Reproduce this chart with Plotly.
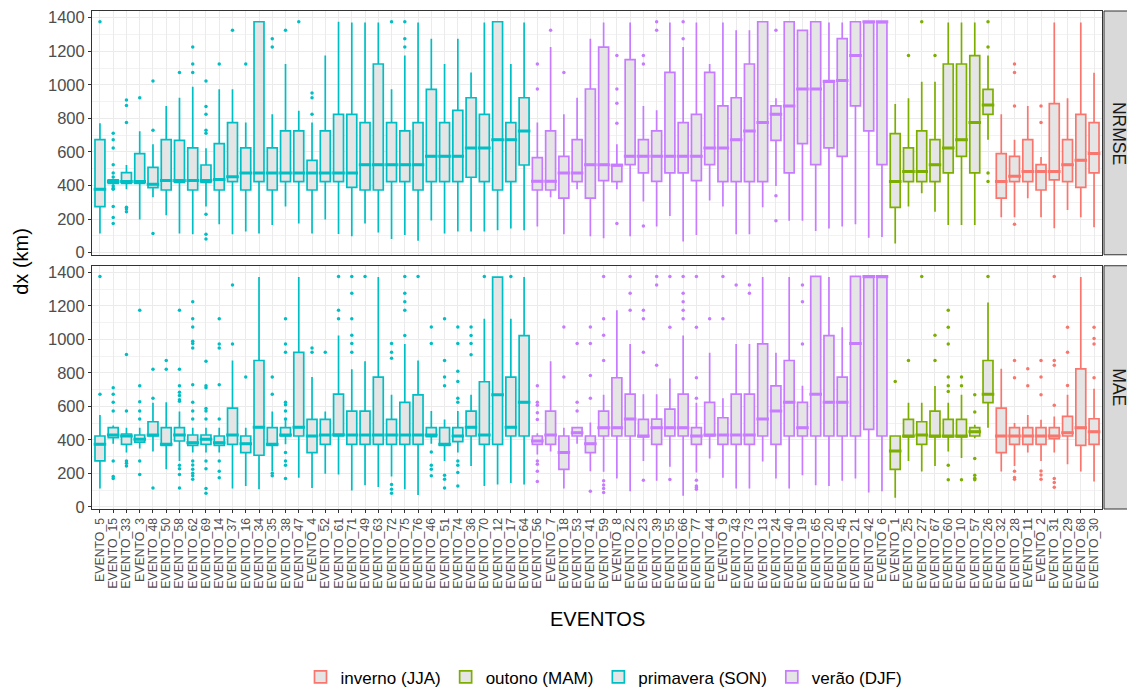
import plotly.graph_objects as go
from plotly.subplots import make_subplots

events = ["EVENTO_5", "EVENTO_15", "EVENTO_33", "EVENTO_3", "EVENTO_48", "EVENTO_50", "EVENTO_58", "EVENTO_62",
          "EVENTO_69", "EVENTO_14", "EVENTO_37", "EVENTO_16", "EVENTO_34", "EVENTO_35", "EVENTO_38", "EVENTO_47",
          "EVENTO_4", "EVENTO_52", "EVENTO_61", "EVENTO_71", "EVENTO_49", "EVENTO_63", "EVENTO_72", "EVENTO_75",
          "EVENTO_76", "EVENTO_46", "EVENTO_51", "EVENTO_74", "EVENTO_36", "EVENTO_70", "EVENTO_12", "EVENTO_17",
          "EVENTO_64",
          "EVENTO_56", "EVENTO_7", "EVENTO_18", "EVENTO_53", "EVENTO_41", "EVENTO_59", "EVENTO_8", "EVENTO_22",
          "EVENTO_23", "EVENTO_39", "EVENTO_55", "EVENTO_66", "EVENTO_77", "EVENTO_44", "EVENTO_9", "EVENTO_43",
          "EVENTO_73", "EVENTO_13", "EVENTO_24", "EVENTO_40", "EVENTO_19", "EVENTO_65", "EVENTO_20", "EVENTO_45",
          "EVENTO_21", "EVENTO_42", "EVENTO_6",
          "EVENTO_1", "EVENTO_25", "EVENTO_27", "EVENTO_67", "EVENTO_60", "EVENTO_10", "EVENTO_57", "EVENTO_26",
          "EVENTO_32", "EVENTO_28", "EVENTO_11", "EVENTO_2", "EVENTO_31", "EVENTO_29", "EVENTO_68", "EVENTO_30"]

seasons = (["primavera (SON)"] * 33 + ["verão (DJF)"] * 27 +
           ["outono (MAM)"] * 8 + ["inverno (JJA)"] * 8)

season_order = ["inverno (JJA)", "outono (MAM)", "primavera (SON)", "verão (DJF)"]
season_colors = {"inverno (JJA)": "#F8766D", "outono (MAM)": "#7CAE00",
                 "primavera (SON)": "#00BFC4", "verão (DJF)": "#C77CFF"}

y_ticks = [0, 200, 400, 600, 800, 1000, 1200, 1400]

# ---------------- NRMSE panel ----------------
nrmse_lo = [113, 405, 377, 197, 330, 222, 113, 109, 274, 169, 109, 125, 113, 165, 274, 173,
            113, 197, 110, 97, 173, 119, 81, 105, 70, 191, 113, 125, 125, 125, 133, 143, 133,
            155, 330, 109, 377, 97, 85, 377, 97, 304, 155, 218, 66, 105, 310, 274, 109, 109,
            270, 397, 189, 189, 129, 143, 155, 169, 89, 93,
            54, 274, 354, 244, 165, 165, 165, 673,
            211, 211, 324, 211, 145, 254, 211, 151]
nrmse_q1 = [274, 413, 413, 413, 387, 373, 419, 373, 419, 373, 423, 373, 423, 373, 423, 423,
            373, 423, 423, 389, 373, 373, 423, 423, 373, 423, 423, 423, 449, 423, 373, 423, 522,
            373, 373, 324, 423, 324, 429, 423, 524, 475, 425, 475, 475, 429, 524, 423, 423, 423,
            423, 669, 475, 649, 524, 624, 574, 874, 725, 524,
            270, 423, 423, 423, 475, 574, 475, 824,
            324, 423, 423, 373, 433, 423, 389, 475]
nrmse_med = [377, 423, 423, 423, 407, 429, 429, 429, 429, 435, 452, 475, 475, 475, 475, 475,
             475, 475, 475, 475, 524, 524, 524, 524, 524, 574, 574, 574, 624, 624, 673, 673, 725,
             425, 425, 475, 475, 524, 524, 520, 574, 574, 574, 574, 574, 574, 624, 624, 673, 725,
             775, 824, 874, 975, 975, 1020, 1025, 1174, 1376, 1376,
             423, 483, 483, 524, 624, 673, 775, 880,
             423, 455, 483, 483, 483, 524, 550, 590]
nrmse_q3 = [673, 433, 477, 590, 508, 673, 669, 624, 522, 649, 775, 624, 1376, 624, 725, 725,
            550, 725, 824, 824, 775, 1124, 775, 725, 775, 973, 775, 848, 923, 824, 1376, 775, 923,
            566, 725, 574, 673, 975, 1225, 524, 1150, 673, 725, 1074, 775, 824, 1074, 874, 923, 1124,
            1376, 874, 1376, 1325, 1376, 1025, 1275, 1376, 1376, 1376,
            709, 624, 725, 673, 1124, 1124, 1174, 973,
            590, 574, 673, 524, 888, 673, 824, 775]
nrmse_hi = [771, 440, 522, 723, 645, 874, 923, 989, 622, 973, 973, 775, 1376, 824, 1124, 846,
            775, 1174, 1376, 1372, 1372, 1372, 973, 1174, 1372, 1275, 1124, 1275, 1074, 1372, 1376, 1124, 1372,
            775, 1225, 824, 923, 1275, 1372, 645, 1372, 874, 848, 1372, 1225, 1372, 1124, 1372, 1325, 1325,
            1376, 920, 1376, 1325, 1376, 1372, 1372, 1376, 1376, 1376,
            886, 920, 1019, 1019, 1372, 1372, 1372, 1174,
            824, 673, 874, 570, 1372, 920, 1372, 1072]
nrmse_out = [[1376], [711, 673, 624, 524, 475, 451, 397, 383, 377, 274, 209, 173],
             [910, 876, 775, 270, 260, 244], [923], [1023, 729, 113], [], [1074], [1225, 1124, 1074],
             [1023, 870, 824, 729, 711, 228, 109, 81], [1124], [1325], [1124], [], [1275, 1225], [1325], [1376],
             [951, 923, 824], [], [], [], [], [], [1376], [1376, 1275, 1225],
             [], [], [], [], [], [], [], [], [],
             [1124, 975], [1325], [1074], [], [], [], [1174, 975, 890, 771, 173], [],
             [1174, 1124, 159], [1376, 1325], [], [1376, 1275], [], [], [], [], [],
             [], [1325, 338, 189], [], [], [], [], [], [], [], [],
             [], [1174], [1376], [1174], [], [], [], [1376, 1225, 475, 423],
             [], [1124, 1074, 874, 169], [], [874, 775], [], [], [], []]

# ---------------- MAE panel ----------------
mae_lo = [109, 377, 324, 348, 330, 224, 274, 324, 324, 324, 109, 125, 105, 213, 373, 173,
          113, 197, 193, 97, 129, 119, 181, 105, 70, 377, 274, 324, 244, 125, 133, 143, 133,
          312, 330, 109, 377, 213, 209, 169, 93, 274, 155, 240, 66, 205, 288, 173, 109, 109,
          270, 169, 109, 189, 129, 125, 155, 169, 85, 93,
          54, 274, 211, 244, 330, 292, 410, 473,
          211, 244, 324, 274, 324, 254, 211, 151]
mae_q1 = [274, 413, 373, 387, 423, 367, 393, 367, 373, 367, 373, 324, 308, 367, 423, 423,
          324, 373, 423, 373, 373, 373, 373, 373, 373, 419, 367, 389, 423, 373, 373, 423, 423,
          373, 373, 224, 423, 324, 423, 423, 423, 417, 373, 423, 423, 373, 423, 373, 373, 373,
          423, 373, 423, 423, 423, 423, 423, 423, 463, 423,
          224, 417, 373, 417, 417, 417, 423, 622,
          324, 373, 373, 373, 407, 423, 367, 373]
mae_med = [373, 429, 423, 403, 429, 373, 429, 383, 403, 383, 429, 377, 475, 373, 429, 475,
           423, 429, 430, 429, 429, 429, 429, 429, 429, 429, 373, 423, 475, 429, 669, 475, 624,
           393, 429, 324, 443, 377, 473, 473, 524, 423, 473, 473, 473, 423, 429, 429, 429, 429,
           524, 572, 624, 473, 673, 624, 624, 975, 1376, 1376,
           334, 423, 429, 423, 423, 423, 449, 673,
           423, 423, 423, 423, 423, 443, 473, 449]
mae_q3 = [423, 473, 435, 429, 508, 473, 473, 429, 429, 423, 590, 423, 874, 473, 473, 923,
          522, 522, 673, 572, 572, 775, 522, 624, 669, 473, 473, 473, 572, 747, 1372, 775, 1023,
          423, 572, 423, 473, 423, 572, 771, 673, 522, 524, 584, 673, 473, 624, 532, 673, 673,
          973, 723, 874, 624, 1376, 1023, 775, 1376, 1376, 1376,
          423, 522, 508, 572, 522, 522, 473, 874,
          590, 473, 473, 473, 473, 540, 824, 526]
mae_hi = [548, 485, 473, 473, 622, 624, 570, 473, 473, 473, 874, 473, 1372, 570, 522, 1372,
          775, 570, 1023, 822, 870, 1372, 669, 973, 874, 572, 522, 572, 669, 1124, 1376, 1124, 1372,
          440, 870, 473, 475, 504, 669, 1174, 973, 673, 673, 767, 1023, 622, 920, 649, 973, 973,
          1372, 920, 1372, 723, 1376, 1372, 1072, 1376, 1376, 1376,
          423, 622, 622, 721, 622, 669, 490, 1221,
          824, 500, 548, 520, 540, 669, 1372, 705]
mae_out = [[1376, 673], [711, 673, 624, 572, 274, 181, 169], [910, 572, 274, 260, 244],
           [1174, 723, 628, 572, 524, 274, 193], [822, 649, 113], [874, 822],
           [1174, 822, 723, 685, 665, 640, 630, 248, 228, 193, 113],
           [1225, 1124, 1074, 989, 975, 949, 729, 624, 572, 524, 274, 250, 225, 200, 185, 165],
           [870, 723, 711, 588, 572, 524, 274, 228, 109, 81],
           [1124, 973, 949, 729, 524, 274, 213, 173], [1325, 973], [775], [], [775, 673, 200, 185],
           [1124, 973, 923, 624, 610, 572, 524, 324, 274, 248, 169], [], [949, 923], [923],
           [1376, 1174, 1124], [1376, 1275, 1124, 1025, 975, 923], [1376], [],
           [975, 923, 888, 133, 105, 81], [1376, 1275, 1225, 1174, 1023], [1376],
           [1074, 975, 328, 248, 224, 185], [1124, 874, 775, 723, 189, 165, 113],
           [1074, 975, 810, 749, 649, 624, 274, 248, 205, 125], [1074, 1023, 975, 908], [1376], [], [1376], [],
           [723, 624, 606, 562, 522, 274, 254, 213, 151], [], [1074, 775], [975, 624, 572],
           [1074, 975, 784, 649, 93], [1376, 1124, 1025, 874, 155, 130, 110, 85], [],
           [1376, 1275, 1174], [1174, 1124, 923, 159], [1376, 1325, 846], [1376, 1072, 163],
           [1376, 1275, 1225, 1174, 1124], [1376, 1072, 771, 649, 159, 125, 115, 105], [1124],
           [1376, 1124], [1325], [1325, 1275], [], [], [], [1325, 1225, 973], [], [], [], [], [], [],
           [749], [874], [1376], [1025, 874], [1174, 1072, 973, 775, 723, 689, 248, 161],
           [775, 723, 161], [669, 566, 288, 189, 170, 161], [1376],
           [], [874, 771, 213, 175, 165], [824, 723], [874, 775, 669, 214, 190, 165],
           [1376, 874, 846, 606, 169, 145, 117], [1072, 923, 725], [], [1072, 1005, 973, 771]]

panels = [("NRMSE", nrmse_lo, nrmse_q1, nrmse_med, nrmse_q3, nrmse_hi, nrmse_out),
          ("MAE", mae_lo, mae_q1, mae_med, mae_q3, mae_hi, mae_out)]

FONT = "Liberation Sans, Arial, Helvetica, sans-serif"
BOX_FILL = "#E5E5E5"

fig = make_subplots(rows=2, cols=1, shared_xaxes=True, vertical_spacing=0.02)

for row, (pname, lo, q1, med, q3, hi, outs) in enumerate(panels, start=1):
    for s in season_order:
        idx = [i for i, v in enumerate(seasons) if v == s]
        col = season_colors[s]
        xs = [events[i] for i in idx]
        fig.add_trace(go.Box(
            x=xs,
            q1=[q1[i] for i in idx], median=[med[i] for i in idx], q3=[q3[i] for i in idx],
            lowerfence=[lo[i] for i in idx], upperfence=[hi[i] for i in idx],
            name=s, legendgroup=s, showlegend=(row == 1),
            line=dict(color=col, width=1.7), fillcolor=BOX_FILL,
            whiskerwidth=0, width=0.75, boxpoints=False, hoverinfo="skip",
        ), row=row, col=1)
        # thicker median bars (ggplot fatten)
        fig.add_trace(go.Scatter(
            x=xs, y=[med[i] for i in idx], mode="markers",
            marker=dict(symbol="line-ew-open", size=9, color=col, line=dict(color=col, width=3)),
            showlegend=False, legendgroup=s, hoverinfo="skip",
        ), row=row, col=1)
        ox, oy = [], []
        for i in idx:
            for v in outs[i]:
                ox.append(events[i])
                oy.append(v)
        fig.add_trace(go.Scatter(
            x=ox, y=oy, mode="markers",
            marker=dict(color=col, size=3.5),
            showlegend=False, legendgroup=s, hoverinfo="skip",
        ), row=row, col=1)

# page offset of the figure (default body margin)
OFF = 8
W, H = 1127, 683
# target page coordinates
P_LEFT, P_RIGHT, P_TOP, P_BOTTOM = 92, 1102, 11, 509.5
ml, mr, mt = P_LEFT - OFF, W - (P_RIGHT - OFF), P_TOP - OFF
mb = H - (P_BOTTOM - OFF)
pw = W - ml - mr
ph = H - mt - mb


def px_x(px):
    return (px - P_LEFT) / pw


def px_y(py):
    return (P_BOTTOM - py) / ph


top_dom = [px_y(255), 1.0]
bot_dom = [0.0, px_y(266)]

axis_common = dict(
    showline=True, linecolor="#333333", linewidth=1, mirror=True,
    gridcolor="#EBEBEB", gridwidth=1, zeroline=False, automargin=False,
)
yaxis_common = dict(
    axis_common, range=[-13, 1440], tickmode="array", tickvals=y_ticks,
    ticktext=[str(v) for v in y_ticks],
    ticks="outside", ticklen=3, tickcolor="#333333",
    tickfont=dict(family=FONT, size=16.5, color="#4D4D4D"),
    minor=dict(dtick=100, tick0=0, showgrid=True, gridcolor="#F2F2F2", gridwidth=0.6, ticks=""),
)
xaxis_common = dict(
    axis_common, categoryorder="array", categoryarray=events, range=[-0.6, 75.6],
    tickmode="array", tickvals=events, ticktext=events,
)
fig.update_layout(
    template="none",
    width=W, height=H,
    margin=dict(l=ml, r=mr, t=mt, b=mb, autoexpand=False),
    plot_bgcolor="white", paper_bgcolor="white",
    boxmode="overlay",
    font=dict(family=FONT, color="#000000"),
    legend=dict(orientation="h", x=px_x(604), xanchor="center", y=px_y(678), yanchor="middle",
                font=dict(family=FONT, size=17, color="#000000"), itemwidth=30,
                traceorder="normal", bgcolor="rgba(0,0,0,0)"),
    yaxis=dict(yaxis_common, domain=top_dom),
    yaxis2=dict(yaxis_common, domain=bot_dom),
    xaxis=dict(xaxis_common, showticklabels=False, ticks=""),
    xaxis2=dict(xaxis_common, ticks="outside", ticklen=3, tickcolor="#333333", tickangle=-90,
                tickfont=dict(family=FONT, size=12.3, color="#4D4D4D")),
)

# strips on the right
for (pname, dom) in [("NRMSE", top_dom), ("MAE", bot_dom)]:
    fig.add_shape(type="rect", xref="paper", yref="paper",
                  x0=px_x(1104), x1=px_x(1134), y0=dom[0], y1=dom[1],
                  fillcolor="#D9D9D9", line=dict(color="#333333", width=1), layer="above")
    fig.add_annotation(xref="paper", yref="paper", x=px_x(1119), y=(dom[0] + dom[1]) / 2,
                       xanchor="center", yanchor="middle",
                       text=pname, textangle=90, showarrow=False,
                       font=dict(family=FONT, size=17.5, color="#1A1A1A"))

# axis titles
fig.add_annotation(xref="paper", yref="paper", x=px_x(21), y=px_y(262),
                   xanchor="center", yanchor="middle",
                   text="dx (km)", textangle=-90, showarrow=False,
                   font=dict(family=FONT, size=20, color="#000000"))
fig.add_annotation(xref="paper", yref="paper", x=px_x(597), y=px_y(620),
                   xanchor="center", yanchor="middle",
                   text="EVENTOS", showarrow=False,
                   font=dict(family=FONT, size=20, color="#000000"))

fig.write_html("out.html")
